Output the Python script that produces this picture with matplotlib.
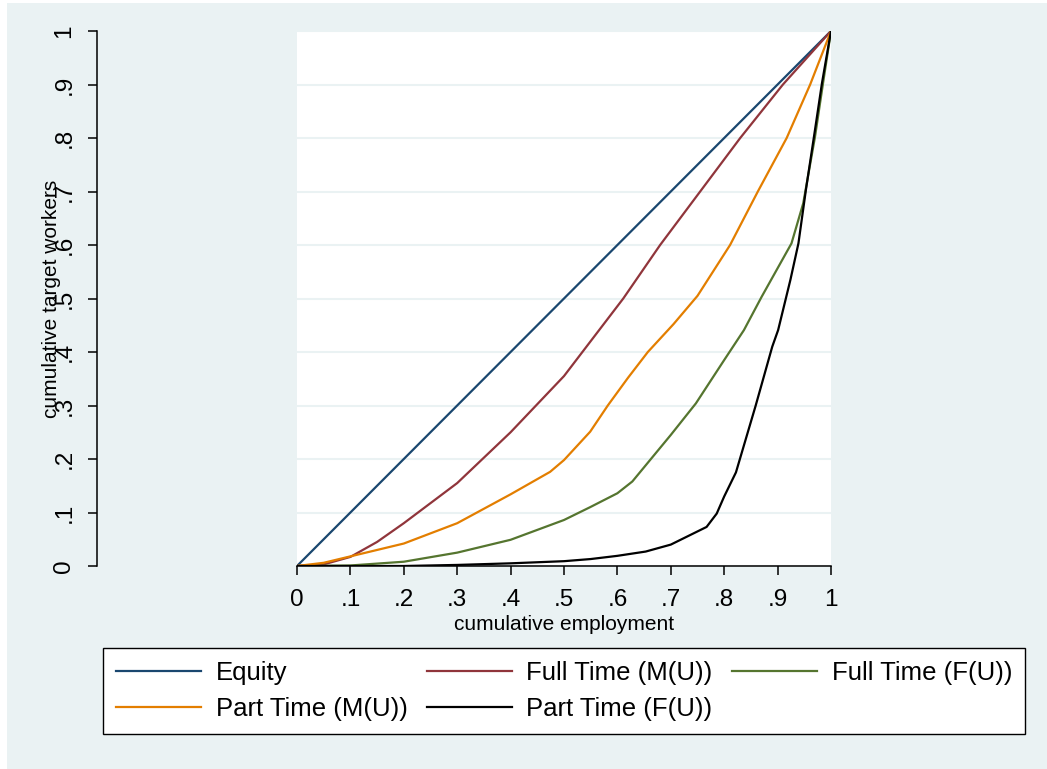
import matplotlib
matplotlib.use("Agg")
import matplotlib.pyplot as plt
from matplotlib.patches import Rectangle

plt.rcParams['font.family'] = ['Liberation Sans', 'DejaVu Sans']

# Lorenz-type curves
equity_x = [0, 1]
equity_y = [0, 1]

ftm_x = [0, 0.05, 0.1, 0.15, 0.2, 0.3, 0.4, 0.5, 0.611, 0.68, 0.755, 0.83, 0.91, 1]
ftm_y = [0, 0.003, 0.017, 0.045, 0.08, 0.155, 0.25, 0.355, 0.5, 0.6, 0.7, 0.8, 0.9, 1]

ftf_x = [0, 0.1, 0.2, 0.3, 0.4, 0.5, 0.549, 0.6, 0.628, 0.7, 0.747, 0.8, 0.837,
         0.87, 0.926, 0.948, 0.97, 0.985, 1]
ftf_y = [0, 0.001, 0.008, 0.025, 0.049, 0.086, 0.11, 0.136, 0.158, 0.245, 0.304,
         0.385, 0.441, 0.503, 0.603, 0.678, 0.802, 0.902, 1]

ptm_x = [0, 0.05, 0.1, 0.2, 0.3, 0.4, 0.474, 0.5, 0.549, 0.582, 0.62, 0.657, 0.705,
         0.75, 0.811, 0.863, 0.917, 0.961, 1]
ptm_y = [0, 0.006, 0.018, 0.042, 0.08, 0.134, 0.176, 0.198, 0.251, 0.3, 0.352, 0.4,
         0.452, 0.505, 0.6, 0.7, 0.8, 0.9, 1]

ptf_x = [0, 0.2, 0.3, 0.4, 0.5, 0.55, 0.6, 0.653, 0.7, 0.767, 0.786, 0.8, 0.822,
         0.859, 0.89, 0.901, 0.924, 0.939, 0.953, 0.97, 0.983, 1]
ptf_y = [0, 0.0, 0.002, 0.005, 0.009, 0.013, 0.019, 0.027, 0.04, 0.073, 0.098, 0.13,
         0.175, 0.3, 0.41, 0.441, 0.535, 0.603, 0.703, 0.815, 0.902, 1]

ticks = [0, 0.1, 0.2, 0.3, 0.4, 0.5, 0.6, 0.7, 0.8, 0.9, 1]
tick_labels = ['0', '.1', '.2', '.3', '.4', '.5', '.6', '.7', '.8', '.9', '1']

BG = '#eaf2f3'
W, H = 1047, 769

fig = plt.figure(figsize=(W / 100, H / 100), dpi=100)
fig.patch.set_facecolor('white')
fig.patches.append(Rectangle((7 / W, 0), 1 - 7 / W, 1 - 3 / H,
                             transform=fig.transFigure, facecolor=BG,
                             edgecolor='none', zorder=-10))

ax = fig.add_axes([297 / W, (H - 566) / H, 534 / W, 535 / H])
ax.set_facecolor('white')

lw = 1.6
l_eq, = ax.plot(equity_x, equity_y, color='#1a476f', lw=lw, label='Equity')
l_ftm, = ax.plot(ftm_x, ftm_y, color='#90353b', lw=lw, label='Full Time (M(U))')
l_ftf, = ax.plot(ftf_x, ftf_y, color='#55752f', lw=lw, label='Full Time (F(U))')
l_ptm, = ax.plot(ptm_x, ptm_y, color='#e37e00', lw=lw, label='Part Time (M(U))')
l_ptf, = ax.plot(ptf_x, ptf_y, color='black', lw=lw, label='Part Time (F(U))')

ax.set_xlim(0, 1)
ax.set_ylim(0, 1)
ax.set_xticks(ticks)
ax.set_xticklabels(tick_labels)
ax.set_yticks(ticks)
ax.set_yticklabels(tick_labels)

ax.grid(axis='y', color=BG, lw=1.5)
ax.set_axisbelow(True)

for s in ['top', 'right']:
    ax.spines[s].set_visible(False)
ax.spines['left'].set_position(('outward', 144))
for s in ['left', 'bottom']:
    ax.spines[s].set_linewidth(1.1)
    ax.spines[s].set_color('black')

ax.tick_params(axis='both', length=6.5, width=1.1, labelsize=17.5)
ax.tick_params(axis='x', pad=10)
ax.tick_params(axis='y', pad=9, labelrotation=90)
for lab in ax.get_yticklabels():
    lab.set_va('center')

ax.set_xlabel('cumulative employment', fontsize=15, labelpad=3)
ax.set_ylabel('cumulative target workers', fontsize=15)
ax.yaxis.set_label_coords(-0.442, 0.5)

handles = [l_eq, l_ptm, l_ftm, l_ptf, l_ftf]
leg = fig.legend(handles=handles, labels=[h.get_label() for h in handles],
                 ncol=3, loc='center', bbox_to_anchor=(564 / W, 1 - 691 / H),
                 fontsize=18.5, frameon=True, fancybox=False, shadow=False,
                 edgecolor='black', facecolor='white', framealpha=1,
                 handlelength=3.3, handletextpad=0.58, columnspacing=0.75,
                 borderpad=0.5, labelspacing=0.5, borderaxespad=0)
leg.get_frame().set_linewidth(1.0)

fig.savefig('out.png', dpi=100, facecolor='white')
